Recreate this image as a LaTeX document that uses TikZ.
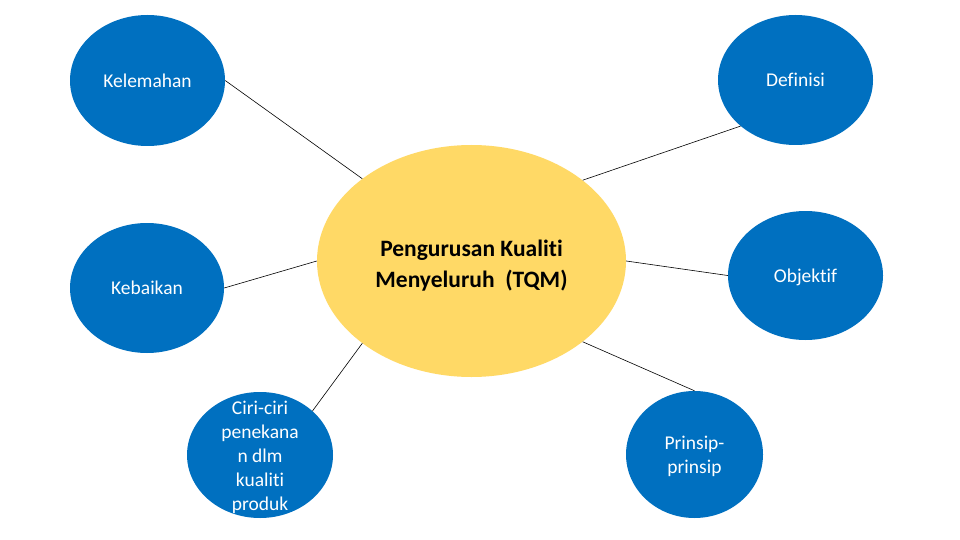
\documentclass[tikz,border=0pt]{standalone}
\usepackage{fontspec}
\setmainfont{Carlito}[Ligatures={NoCommon,NoContextual}]
\usetikzlibrary{shapes.geometric}
\definecolor{bblue}{HTML}{0070C0}
\definecolor{tyellow}{HTML}{FFD966}
\tikzset{
  blob/.style={ellipse, fill=bblue, draw=none, inner sep=0pt},
  hub/.style={ellipse, fill=tyellow, draw=none, inner sep=0pt, minimum width=309pt, minimum height=232pt},
  lbl/.style={text=white, align=center, inner sep=0pt, font=\fontsize{19.5}{24}\selectfont},
  hublbl/.style={text=black, align=center, inner sep=0pt, font=\fontsize{23.5}{31}\selectfont\bfseries},
  conn/.style={draw=black, line width=0.6pt}
}
\begin{document}
\begin{tikzpicture}[x=1pt,y=-1pt]
\useasboundingbox[fill=white] (0,0) rectangle (960,540);
% nodes
\node[hub] (tqm) at (471.5,261) {};
\node[blob, minimum width=155pt, minimum height=131pt] (kel) at (147.5,80.5) {};
\node[blob, minimum width=155pt, minimum height=130pt] (def) at (795.5,80) {};
\node[blob, minimum width=154pt, minimum height=130pt] (keb) at (147,288) {};
\node[blob, minimum width=155pt, minimum height=129pt] (obj) at (805.5,275.5) {};
\node[blob, minimum width=146pt, minimum height=126pt] (ciri) at (260,455) {};
\node[blob, minimum width=137pt, minimum height=127pt] (pri) at (694.5,454.5) {};
% labels
\node[hublbl] (tqmt) at (471.5,265.5) {Pengurusan Kualiti\\Menyeluruh\ \ (TQM)};
\node[lbl] (kelt) at (kel.center) {Kelemahan};
\node[lbl] (deft) at (def.center) {Definisi};
\node[lbl] (kebt) at (keb.center) {Kebaikan};
\node[lbl] (objt) at (805.5,277) {Objektif};
\node[lbl] (cirit) at (260,457) {Ciri-ciri\\penekana\\n dlm\\kualiti\\produk};
\node[lbl] (prit) at (694.5,456) {Prinsip-\\prinsip};
% connectors
\draw[conn] (kel.east) -- (tqm.143.2);
\draw[conn] (def.220.3) -- (tqm.36.6);
\draw[conn] (keb.east) -- (tqm.west);
\draw[conn] (obj.west) -- (tqm.east);
\draw[conn] (ciri.40.9) -- (tqm.217.1);
\draw[conn] (pri.north) -- (tqm.-36.6);
\end{tikzpicture}
\end{document}
